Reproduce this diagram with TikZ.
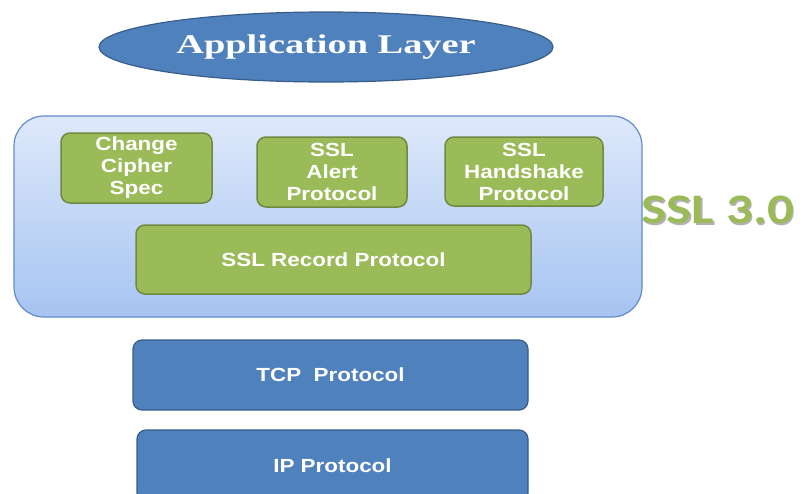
\documentclass[tikz,border=0pt]{standalone}
\usepackage{graphicx}
\usepackage{fontspec}
\setmainfont{Liberation Sans}
\newfontfamily\layerfont{Liberation Serif}
\newfontfamily\versionfont{Carlito}
\usetikzlibrary{shapes.geometric}

\definecolor{layerblue}{RGB}{79,129,189}
\definecolor{layeredge}{RGB}{56,93,138}
\definecolor{protogreen}{RGB}{155,187,89}
\definecolor{protoedge}{RGB}{113,137,63}
\definecolor{suitetop}{RGB}{222,232,250}
\definecolor{suitebottom}{RGB}{166,196,242}
\definecolor{suiteedge}{RGB}{98,140,200}

% wide lettering, one line at a time
\newcommand{\wideline}[2][1.18]{\scalebox{#1}[1]{#2}}

\tikzset{
  protobox/.style={draw=protoedge, line width=1.5pt, fill=protogreen, rounded corners=9pt,
    text=white, align=center, inner sep=0pt, font=\bfseries\fontsize{19}{22}\selectfont},
  netbox/.style={draw=layeredge, line width=1.2pt, fill=layerblue, rounded corners=9pt,
    text=white, align=center, inner sep=0pt, font=\bfseries\fontsize{19}{22}\selectfont}
}

\begin{document}
\begin{tikzpicture}[x=1pt,y=1pt,yscale=-1]
        \useasboundingbox (0,0) rectangle (800,493);
        \fill[white] (0,0) rectangle (800,493);

        % top layer
        \node[ellipse, draw=layeredge, line width=1.2pt, fill=layerblue, minimum width=454, minimum height=70, inner sep=0pt,
              text=white, font=\layerfont\bfseries\fontsize{27}{30}\selectfont] (app) at (326,47) {\wideline[1.42]{Application Layer}};

        % SSL container
        \node[draw=suiteedge, line width=1.2pt, rounded corners=30pt, top color=suitetop, bottom color=suitebottom,
              minimum width=628, minimum height=201, inner sep=0pt] (suite) at (328,216.5) {};
        \node[protobox, minimum width=151, minimum height=70] (ccs) at (136.5,168) {\wideline{Change}\\\wideline{Cipher}\\\wideline{Spec}};
        \node[protobox, minimum width=150, minimum height=70] (alert) at (332,172) {\wideline{SSL}\\\wideline{Alert}\\\wideline{Protocol}};
        \node[protobox, minimum width=158, minimum height=69] (hand) at (524,171.5) {\wideline{SSL}\\\wideline{Handshake}\\\wideline{Protocol}};
        \node[protobox, minimum width=395, minimum height=69] (record) at (333.5,259.5) {\wideline{SSL Record Protocol}};

        \node[text=black!30, font=\versionfont\bfseries\fontsize{42}{44}\selectfont] at (719.5,212) {\wideline[1.26]{SSL 3.0}};
        \node[text=protogreen, font=\versionfont\bfseries\fontsize{42}{44}\selectfont] (ver) at (718,210) {\wideline[1.26]{SSL 3.0}};

        % transport and network
        \node[netbox, minimum width=395, minimum height=70] (tcp) at (330.5,375) {\wideline{TCP\ \ Protocol}};
        \node[netbox, minimum width=391, minimum height=72] (ip) at (332.5,466) {\wideline{IP Protocol}};
\end{tikzpicture}
\end{document}
